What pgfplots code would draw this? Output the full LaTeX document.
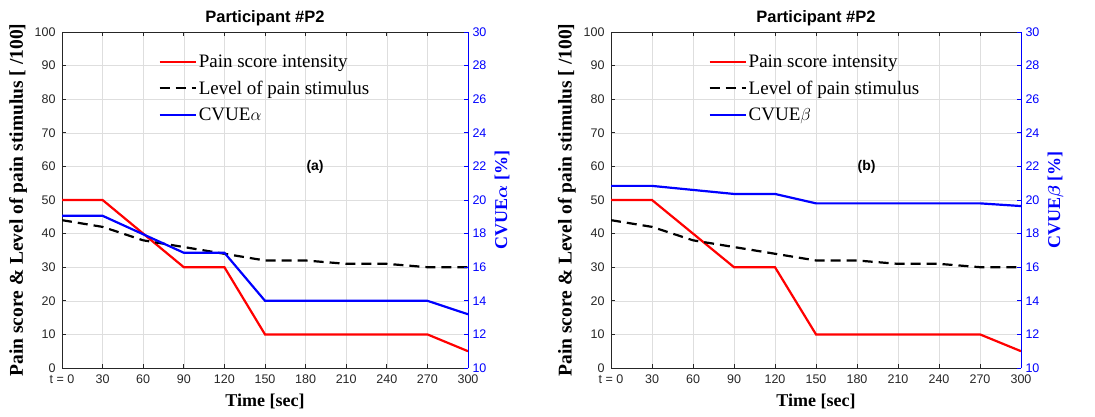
\documentclass[border=0pt]{standalone}
\usepackage{pgfplots}
\pgfplotsset{compat=1.18}
\usepackage{fontspec}
\setmainfont{Liberation Sans}
\newfontfamily\serif{Liberation Serif}
\definecolor{axgray}{RGB}{38,38,38}
\definecolor{gridgray}{RGB}{222,222,222}
\definecolor{pblue}{RGB}{0,0,255}
\definecolor{pred}{RGB}{255,0,0}

\pgfplotstableread{
t pain
0 50
30 50
90 30
120 30
150 10
270 10
300 5
}\painT
\pgfplotstableread{
t stim
0 44
30 42
60 38
90 36
120 34
150 32
180 32
210 31
240 31
270 30
300 30
}\stimT
\pgfplotstableread{
t cv
0 19.06
30 19.06
90 16.86
120 16.86
150 14.0
270 14.0
300 13.2
}\alphaT
\pgfplotstableread{
t cv
0 20.84
30 20.84
90 20.36
120 20.36
150 19.80
270 19.80
300 19.64
}\betaT

\pgfplotsset{
  common/.style={
    scale only axis, height=336pt,
    xmin=0, xmax=300,
    /pgf/number format/assume math mode=true,
    major tick length=4pt,
    ticklabel style={font=\fontsize{12.5}{14}\selectfont},
  },
  leftax/.style={
    common,
    axis y line*=left,
    ymin=0, ymax=100, ytick={0,10,...,100},
    xtick={0,30,...,300},
    xticklabels={t = 0,30,60,90,120,150,180,210,240,270,300},
    grid=major, grid style={gridgray, line width=0.6pt},
    axis line style={axgray, line width=0.8pt},
    tick style={axgray, line width=0.8pt},
    ticklabel style={text=axgray},
    xticklabel style={yshift=-3pt},
    yticklabel style={xshift=-3pt},
    title={Participant \#P2},
    title style={font=\bfseries\fontsize{16.5}{18}\selectfont, at={(axis description cs:0.5,1)}, anchor=south, yshift=-3pt},
    xlabel={Time [sec]},
    every axis x label/.style={at={(axis description cs:0.5,0)}, anchor=center, yshift=-33pt, font=\serif\bfseries\fontsize{18}{20}\selectfont},
    ylabel={Pain score \& Level of pain stimulus [ /100]},
    every axis y label/.style={at={(axis description cs:-0.108,0.5)}, rotate=90, anchor=center, font=\serif\bfseries\fontsize{19.5}{21}\selectfont},
    legend cell align=left,
    legend image code/.code={\draw[##1] (0pt,0pt) -- (36pt,0pt);},
    legend style={draw=none, fill=none, at={(0.23,0.945)}, anchor=north west,
      font=\serif\fontsize{19}{22}\selectfont, row sep=8pt,
      /tikz/every even column/.append style={column sep=2pt}},
  },
  rightax/.style={
    common,
    axis y line*=right, axis x line=none,
    ymin=10, ymax=30, ytick={10,12,...,30},
    axis line style={pblue, line width=0.8pt},
    tick style={pblue, line width=0.8pt},
    ticklabel style={text=pblue},
    yticklabel style={xshift=1pt},
    every axis y label/.style={at={(axis description cs:1.084,0.5)}, rotate=90, anchor=center, font=\serif\bfseries\boldmath\fontsize{18}{20}\selectfont, text=pblue},
  },
  pain/.style={pred, line width=2.2pt},
  stim/.style={black, line width=2.2pt, dash pattern=on 10pt off 6pt},
  cvue/.style={pblue, line width=2.2pt},
}

\begin{document}
\begin{tikzpicture}[x=1pt,y=1pt]
\useasboundingbox (0,0) rectangle (1095,416);

% ---------- panel (a) ----------
\begin{axis}[leftax, width=406pt, at={(62pt,48pt)}, anchor=south west]
\addplot[pain] table[x=t,y=pain] {\painT};
\addlegendentry{Pain score intensity}
\addplot[stim] table[x=t,y=stim] {\stimT};
\addlegendentry{Level of pain stimulus}
\addlegendimage{cvue}
\addlegendentry{CVUE$\alpha$}
\node[font=\bfseries\fontsize{14}{16}\selectfont] at (axis cs:187,60) {(a)};
\end{axis}
\begin{axis}[rightax, width=406pt, at={(62pt,48pt)}, anchor=south west,
  ylabel={CVUE$\alpha$ [\%]}]
\addplot[cvue] table[x=t,y=cv] {\alphaT};
\end{axis}

% ---------- panel (b) ----------
\begin{axis}[leftax, width=410pt, at={(611pt,48pt)}, anchor=south west]
\addplot[pain] table[x=t,y=pain] {\painT};
\addlegendentry{Pain score intensity}
\addplot[stim] table[x=t,y=stim] {\stimT};
\addlegendentry{Level of pain stimulus}
\addlegendimage{cvue}
\addlegendentry{CVUE$\beta$}
\node[font=\bfseries\fontsize{14}{16}\selectfont] at (axis cs:187,60) {(b)};
\end{axis}
\begin{axis}[rightax, width=410pt, at={(611pt,48pt)}, anchor=south west,
  ylabel={CVUE$\beta$ [\%]}]
\addplot[cvue] table[x=t,y=cv] {\betaT};
\end{axis}
\end{tikzpicture}
\end{document}
